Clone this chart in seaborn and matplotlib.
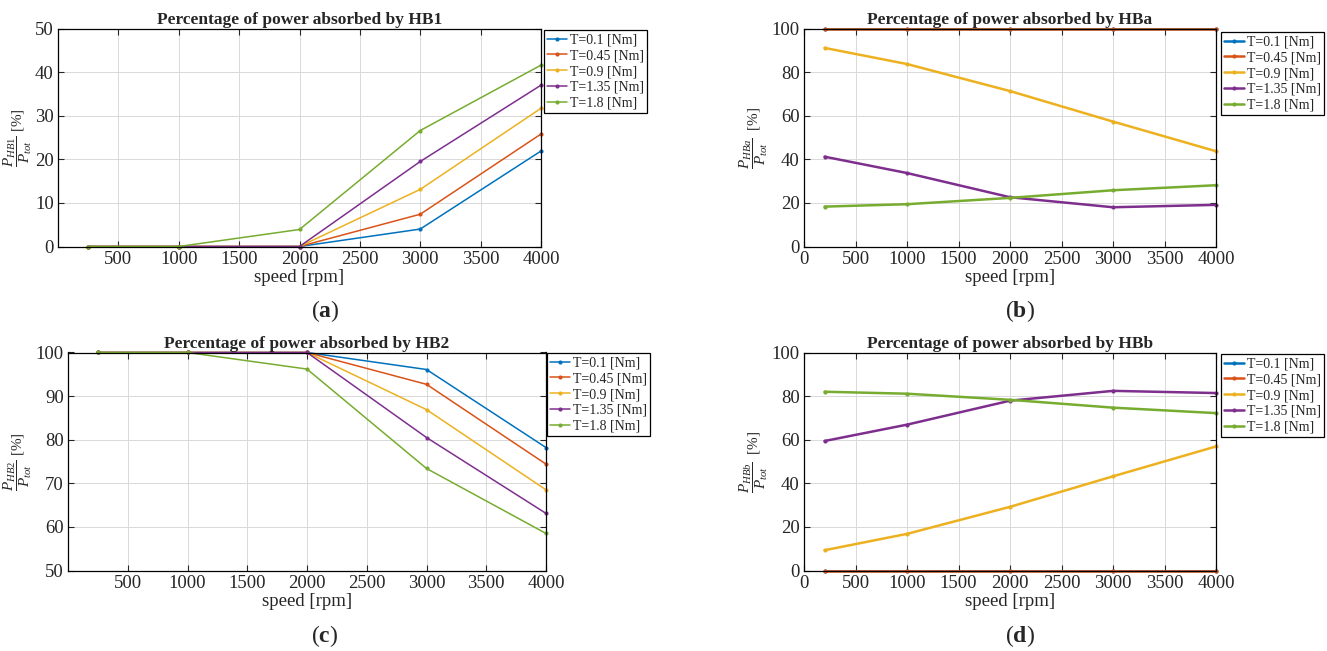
import numpy as np
import pandas as pd
import matplotlib
matplotlib.use("Agg")
import matplotlib.pyplot as plt
import seaborn as sns

# ---------------- data ----------------
torque_labels = ["T=0.1 [Nm]", "T=0.45 [Nm]", "T=0.9 [Nm]", "T=1.35 [Nm]", "T=1.8 [Nm]"]
speed_ac = [250, 1000, 2000, 3000, 4000]
speed_bd = [200, 1000, 2000, 3000, 4000]

hb1_values = [
    [0, 0, 0, 4.0, 21.9],
    [0, 0, 0, 7.4, 25.8],
    [0, 0, 0, 13.1, 31.7],
    [0, 0, 0, 19.5, 37.0],
    [0, 0, 3.9, 26.6, 41.6],
]
hb2_values = [
    [100, 100, 100, 96.1, 78.2],
    [100, 100, 100, 92.7, 74.4],
    [100, 100, 100, 86.9, 68.5],
    [100, 100, 100, 80.5, 63.1],
    [100, 100, 96.2, 73.4, 58.5],
]
hba_values = [
    [100, 100, 100, 100, 100],
    [100, 100, 100, 100, 100],
    [91.1, 83.7, 71.3, 57.3, 43.7],
    [41.2, 33.7, 22.6, 18.0, 19.1],
    [18.3, 19.4, 22.3, 25.8, 28.1],
]
hbb_values = [
    [0, 0, 0, 0, 0],
    [0, 0, 0, 0, 0],
    [9.3, 16.8, 29.2, 43.2, 56.9],
    [59.4, 66.9, 77.9, 82.4, 81.4],
    [82.0, 81.1, 78.3, 74.7, 72.2],
]

colors = ["#0072BD", "#D95319", "#EDB120", "#7E2F8E", "#77AC30"]

# ---------------- style ----------------
sns.set_theme(style="whitegrid")
plt.rcParams.update({
    "font.family": ["Liberation Serif", "DejaVu Serif"],
    "mathtext.fontset": "custom",
    "mathtext.rm": "Liberation Serif",
    "mathtext.it": "Liberation Serif:italic",
    "mathtext.bf": "Liberation Serif:bold",
    "axes.edgecolor": "black",
    "axes.linewidth": 0.9,
    "xtick.direction": "in",
    "ytick.direction": "in",
    "xtick.color": "#262626",
    "ytick.color": "#262626",
    "grid.color": "#d9d9d9",
    "grid.linewidth": 0.7,
})


def long_form(speed, values):
    rows = []
    for lab, vals in zip(torque_labels, values):
        for s, v in zip(speed, vals):
            rows.append({"speed": s, "value": v, "torque": lab})
    return pd.DataFrame(rows)


fig = plt.figure(figsize=(13.27, 6.51), dpi=100)
W, H = 1327, 651


def px_axes(left, right, top, bottom):
    return fig.add_axes([left / W, 1 - bottom / H, (right - left) / W, (bottom - top) / H])


panels = [
    dict(box=(58, 541, 28.5, 246.5), speed=speed_ac, vals=hb1_values, lw=1.1,
         title="Percentage of power absorbed by HB1",
         ylabel=r"$\dfrac{P_{HB1}}{P_{tot}}$ [%]", ylim=(0, 50), yticks=np.arange(0, 51, 10),
         xticks=np.arange(500, 4001, 500), legpos=(544, 30), tag="a", tagpos=(325, 311)),
    dict(box=(804, 1216, 28.5, 246.5), speed=speed_bd, vals=hba_values, lw=1.8,
         title="Percentage of power absorbed by HBa",
         ylabel=r"$\dfrac{P_{HBa}}{P_{tot}}$  [%]", ylim=(0, 100), yticks=np.arange(0, 101, 20),
         xticks=np.arange(0, 4001, 500), legpos=(1221, 32), tag="b", tagpos=(1020, 311)),
    dict(box=(68, 546, 352.5, 570.5), speed=speed_ac, vals=hb2_values, lw=1.1,
         title="Percentage of power absorbed by HB2",
         ylabel=r"$\dfrac{P_{HB2}}{P_{tot}}$ [%]", ylim=(50, 100), yticks=np.arange(50, 101, 10),
         xticks=np.arange(500, 4001, 500), legpos=(547, 353), tag="c", tagpos=(325, 636)),
    dict(box=(804, 1216, 352.5, 570.5), speed=speed_bd, vals=hbb_values, lw=1.8,
         title="Percentage of power absorbed by HBb",
         ylabel=r"$\dfrac{P_{HBb}}{P_{tot}}$  [%]", ylim=(0, 100), yticks=np.arange(0, 101, 20),
         xticks=np.arange(0, 4001, 500), legpos=(1221, 354), tag="d", tagpos=(1020, 636)),
]

for p in panels:
    ax = px_axes(*p["box"])
    df = long_form(p["speed"], p["vals"])
    sns.lineplot(data=df, x="speed", y="value", hue="torque", hue_order=torque_labels,
                 palette=colors, marker="o", markersize=3, markeredgewidth=0,
                 linewidth=p["lw"], ax=ax, legend=True)
    data_lines = ax.get_lines()
    for ln in data_lines:
        ln.set_clip_on(False)
    if p["lw"] > 1.5 and len(data_lines) > 0:
        # first series is fully hidden beneath the second one in these panels
        data_lines[0].set_linewidth(p["lw"] * 0.6)
    ax.set_xlim(0, 4000)
    ax.set_ylim(*p["ylim"])
    ax.set_xticks(p["xticks"])
    ax.set_yticks(p["yticks"])
    ax.tick_params(axis="both", labelsize=13.5, length=4, width=0.8,
                   top=True, right=True, bottom=True, left=True, pad=3)
    for sp in ax.spines.values():
        sp.set_visible(True)
        sp.set_color("black")
    ax.grid(True, which="major")
    ax.set_title(p["title"], fontsize=12.5, fontweight="bold", pad=3)
    ax.set_xlabel("speed [rpm]", fontsize=13.5, labelpad=1)
    ax.set_ylabel(p["ylabel"], fontsize=11, labelpad=1)
    leg = ax.legend(loc="upper left", bbox_to_anchor=(p["legpos"][0] / W, 1 - p["legpos"][1] / H),
                    bbox_transform=fig.transFigure, fontsize=10, frameon=True,
                    fancybox=False, edgecolor="black", framealpha=1,
                    handlelength=1.4, handletextpad=0.2, labelspacing=0.2,
                    borderpad=0.25, borderaxespad=0)
    leg.get_frame().set_linewidth(0.9)
    fig.text(p["tagpos"][0] / W, 1 - p["tagpos"][1] / H, r"$(\mathbf{%s})$" % p["tag"],
             ha="center", va="center", fontsize=17)

fig.savefig("out.png", dpi=100, facecolor="white")
